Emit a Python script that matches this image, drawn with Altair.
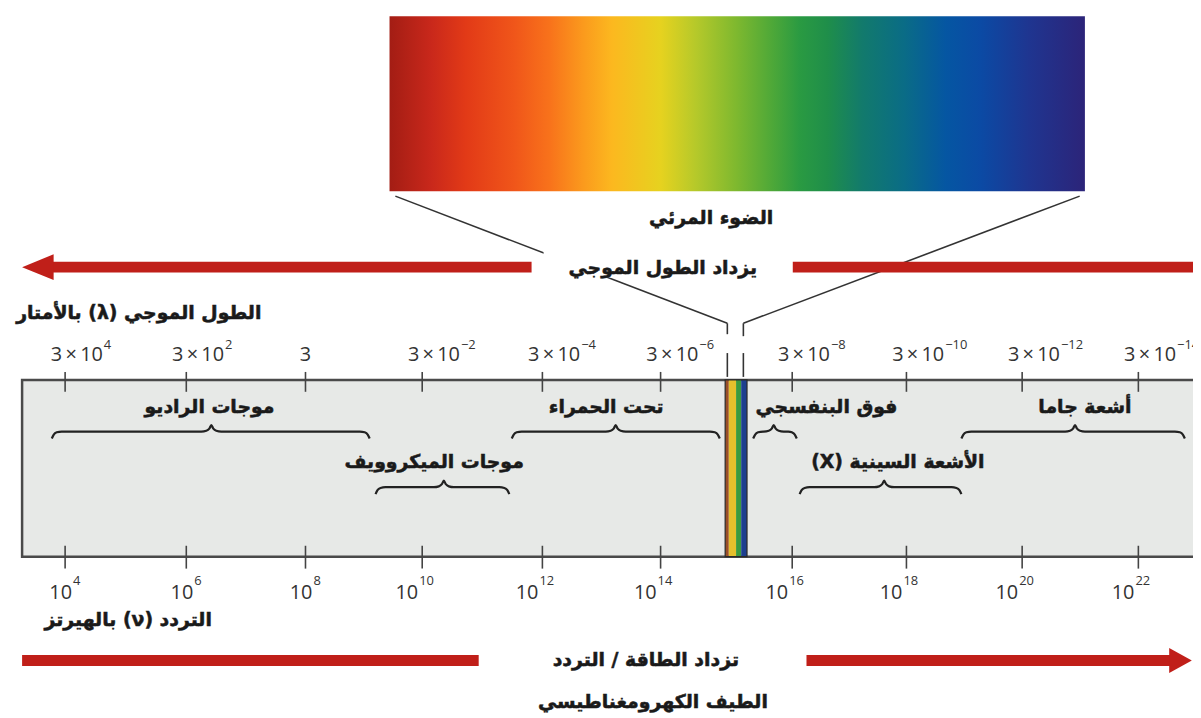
import altair as alt
import pandas as pd

RLE, PDF = "\u202b", "\u202c"
def rtl(s):
    return RLE + s + PDF

# ---- horizontal axis of the diagram: log10(frequency / Hz), piecewise (visible band expanded)
axis_exp = [4, 6, 8, 10, 12, 14, 14.6, 14.9, 16, 18, 20, 22]
axis_pos = [57.5, 179.5, 299.5, 417, 538, 657, 722, 744, 789.5, 904.5, 1021, 1138]

# ---- tick values / labels
freq_exp = [4, 6, 8, 10, 12, 14, 16, 18, 20, 22]
freq_exp_text = ["4", "6", "8", "10", "12", "14", "16", "18", "20", "22"]
# wavelength (m) at the same ticks: 3 x 10^k
wave_exp_text = ["4", "2", "", "−2", "−4", "−6", "−8", "−10", "−12", "−14"]

# ---- spectral regions (log10 frequency ranges)
band_names = ["موجات الراديو", "موجات الميكروويف", "تحت الحمراء", "فوق البنفسجي",
              "الأشعة السينية (X)", "أشعة جاما"]
band_lo = [3.78, 9.20, 11.49, 15.05, 16.13, 18.95]
band_hi = [9.10, 11.45, 14.55, 16.08, 18.95, 22.80]
band_mid = [6.42, 10.36, 13.24, 15.55, 17.61, 20.91]
band_text_at = [6.39, 10.20, 13.08, 16.60, 17.85, 21.08]
band_tier = [1, 2, 1, 1, 2, 1]

# ---- visible light strip inside the spectrum bar
vis_lo = [14.60, 14.65, 14.75, 14.82]
vis_hi = [14.65, 14.75, 14.82, 14.90]
vis_colors = ["#9a4e28", "#e4c02c", "#3a9a3e", "#1d3f8f"]

# ---- visible spectrum colour stops (red -> violet)
grad_offsets = [0.0, 0.06, 0.11, 0.18, 0.23, 0.28, 0.32, 0.39, 0.44, 0.50, 0.55, 0.59, 0.63,
                0.68, 0.74, 0.80, 0.85, 0.92, 1.0]
grad_colors = ["#a31d14", "#c9281b", "#e23a17", "#f0561a", "#f8721b", "#fb9b1d", "#fcb81f",
               "#e6d21f", "#b6c92a", "#7db82f", "#4ea838", "#2a9a42", "#1f8e4a", "#127a6c",
               "#0a6c86", "#0556a2", "#0b4aa4", "#1f3590", "#2c2479"]

# ---- layout (vertical positions are rows of the picture, horizontal in log10 f units)
LAY = dict(
    spec_lo=9.44, spec_hi=21.08, spec_top=14, spec_bot=190,
    box_lo=3.29, box_hi=23.6, box_top=380, box_bot=558,
    tick_top=(372, 392), tick_bot=(547, 570),
    wave_lab_y=355, wave_exp_y=345, freq_lab_y=595, freq_exp_y=582,
    tier_text={1: 407, 2: 463}, tier_brace={1: 432, 2: 488},
)
RED = "#c01f19"
INK = "#1a1a1a"
NUMC = "#333333"
AR_FONT = "DejaVu Sans"
AR_SIZE = 19
AR_STROKE = 0.55
NUM_FONT = "Open Sans"
NUM_SIZE = 20
EXP_SIZE = 13

xscale = alt.Scale(domain=axis_exp, range=axis_pos, zero=False, nice=False)
yscale = alt.Scale(domain=[8, 718], reverse=True, zero=False, nice=False)


def X(f="x"):
    return alt.X(f, type="quantitative", scale=xscale, axis=None)


def Y(f="y"):
    return alt.Y(f, type="quantitative", scale=yscale, axis=None)


def slope(v):
    xs, ps = axis_exp, axis_pos
    if v < xs[0]:
        return (ps[1] - ps[0]) / (xs[1] - xs[0])
    for i in range(len(xs) - 1):
        if xs[i] <= v < xs[i + 1]:
            return (ps[i + 1] - ps[i]) / (xs[i + 1] - xs[i])
    return (ps[-1] - ps[-2]) / (xs[-1] - xs[-2])


# ---- spectrum gradient
spec = alt.Chart(pd.DataFrame({"x": [LAY["spec_lo"]], "x2": [LAY["spec_hi"]],
                               "y": [LAY["spec_top"]], "y2": [LAY["spec_bot"]]})).mark_rect(
    fill={"gradient": "linear", "x1": 0, "x2": 1, "y1": 0, "y2": 0,
          "stops": [{"offset": o, "color": c} for o, c in zip(grad_offsets, grad_colors)]}
).encode(x=X(), x2="x2", y=Y(), y2="y2")

# ---- converging lines from the spectrum to the visible strip
seg = pd.DataFrame({
    "x": [9.54, 14.63, 14.63, 20.99, 14.85, 14.85],
    "y": [195, 323, 353, 195, 323, 353],
    "x2": [14.63, 14.63, 14.63, 14.85, 14.85, 14.85],
    "y2": [323, 334, 377, 323, 336, 377],
})
conv = alt.Chart(seg).mark_rule(color="#333333", strokeWidth=1.6).encode(
    x=X(), y=Y(), x2="x2", y2="y2")

knock = alt.Chart(pd.DataFrame({"x": [12.02], "x2": [15.82], "y": [248], "y2": [277]})).mark_rect(
    color="white").encode(x=X(), x2="x2", y=Y(), y2="y2")

# ---- red arrows
bars = pd.DataFrame({
    "x": [3.80, 16.01, 3.29, 16.25],
    "x2": [11.82, 23.6, 10.94, 22.55],
    "y": [261, 261, 657, 657],
    "y2": [272, 272, 668, 668],
})
red_bars = alt.Chart(bars).mark_rect(color=RED, clip=True).encode(x=X(), x2="x2", y=Y(), y2="y2")
head_l = alt.Chart(pd.DataFrame({"x": [3.29, 3.81], "y": [266.5, 253.5], "y2": [266.5, 279.5]})).mark_area(
    color=RED).encode(x=X(), y=Y(), y2="y2")
head_r = alt.Chart(pd.DataFrame({"x": [22.53, 22.92], "y": [650, 662.5], "y2": [675, 662.5]})).mark_area(
    color=RED).encode(x=X(), y=Y(), y2="y2")

# ---- the spectrum bar
box = alt.Chart(pd.DataFrame({"x": [LAY["box_lo"]], "x2": [LAY["box_hi"]],
                              "y": [LAY["box_top"]], "y2": [LAY["box_bot"]]})).mark_rect(
    fill="#e7e9e7", stroke="#4a4a4a", strokeWidth=2.5, clip=True).encode(
    x=X(), x2="x2", y=Y(), y2="y2")

vis = alt.Chart(pd.DataFrame({"x": vis_lo, "x2": vis_hi, "c": vis_colors,
                              "y": [LAY["box_top"]] * 4, "y2": [LAY["box_bot"]] * 4})).mark_rect().encode(
    x=X(), x2="x2", y=Y(), y2="y2", color=alt.Color("c:N", scale=None))
vis_edge = alt.Chart(pd.DataFrame({"x": [vis_lo[0]], "x2": [vis_hi[-1]],
                                   "y": [LAY["box_top"]], "y2": [LAY["box_bot"]]})).mark_rect(
    fill=None, stroke="#2a2a2a", strokeWidth=1.2).encode(x=X(), x2="x2", y=Y(), y2="y2")

ticks_df = pd.DataFrame({"x": freq_exp * 2,
                         "y": [LAY["tick_top"][0]] * 10 + [LAY["tick_bot"][0]] * 10,
                         "y2": [LAY["tick_top"][1]] * 10 + [LAY["tick_bot"][1]] * 10})
ticks = alt.Chart(ticks_df).mark_rule(color="#444444", strokeWidth=1.6).encode(x=X(), y=Y(), y2="y2")

# ---- curly braces built from each region's range
brace_shape_l = [(0, 7), (2, 3), (5, 0.8), (10, 0)]
brace_shape_c = [(-10, 0), (-5, -0.8), (-2, -3), (0, -6.5), (2, -3), (5, -0.8), (10, 0)]
brace_shape_r = [(-10, 0), (-5, 0.8), (-2, 3), (0, 7)]
rows = []
for i, name in enumerate(band_names):
    yb = LAY["tier_brace"][band_tier[i]]
    pts = []
    for anchor, shape in ((band_lo[i], brace_shape_l), (band_mid[i], brace_shape_c), (band_hi[i], brace_shape_r)):
        k = slope(anchor)
        for dx, dy in shape:
            pts.append((anchor + dx / k, yb + dy))
    for j, (px, py) in enumerate(pts):
        rows.append({"band": name, "o": j, "x": px, "y": py})
braces = alt.Chart(pd.DataFrame(rows)).mark_line(
    color="#222222", strokeWidth=2.2, interpolate="monotone").encode(
    x=X(), y=Y(), detail="band:N", order="o:Q")

band_df = pd.DataFrame({"x": band_text_at,
                        "y": [LAY["tier_text"][t] for t in band_tier],
                        "t": [rtl(n) for n in band_names]})
band_text = alt.Chart(band_df).mark_text(font=AR_FONT, fontSize=AR_SIZE, fontWeight="bold", color=INK,
                                         stroke=INK, strokeWidth=AR_STROKE,
                                         baseline="middle", align="center").encode(
    x=X(), y=Y(), text="t:N")

# ---- wavelength tick labels: 3 x 10^k
wl = pd.DataFrame({"x": freq_exp, "e": wave_exp_text,
                   "y": [LAY["wave_lab_y"]] * 10, "ye": [LAY["wave_exp_y"]] * 10})
wl_base = alt.Chart(wl).transform_filter("datum.e != ''").transform_calculate(
    t="'3\u2009×\u200910'").mark_text(
    font=NUM_FONT, fontSize=NUM_SIZE, color=NUMC, align="right", dx=38, baseline="middle").encode(
    x=X(), y=Y(), text="t:N")
wl_exp = alt.Chart(wl).transform_filter("datum.e != ''").mark_text(
    font=NUM_FONT, fontSize=EXP_SIZE, color=NUMC, align="left", dx=39, baseline="middle").encode(
    x=X(), y=Y("ye"), text="e:N")
wl_three = alt.Chart(wl).transform_filter("datum.e == ''").transform_calculate(t="'3'").mark_text(
    font=NUM_FONT, fontSize=NUM_SIZE, color=NUMC, align="center", baseline="middle").encode(
    x=X(), y=Y(), text="t:N")

# ---- frequency tick labels: 10^k
fq = pd.DataFrame({"x": freq_exp, "e": freq_exp_text,
                   "y": [LAY["freq_lab_y"]] * 10, "ye": [LAY["freq_exp_y"]] * 10})
fq_layers = []
for cond, off in (("length(datum.e) == 1", 7), ("length(datum.e) == 2", -4)):
    fq_layers.append(alt.Chart(fq).transform_filter(cond).transform_calculate(t="'10'").mark_text(
        font=NUM_FONT, fontSize=NUM_SIZE, color=NUMC, align="right", dx=off, baseline="middle").encode(
        x=X(), y=Y(), text="t:N"))
    fq_layers.append(alt.Chart(fq).transform_filter(cond).mark_text(
        font=NUM_FONT, fontSize=EXP_SIZE, color=NUMC, align="left", dx=off + 1, baseline="middle").encode(
        x=X(), y=Y("ye"), text="e:N"))

# ---- captions
cap_c = pd.DataFrame({
    "x": [14.47, 14.02, 13.75, 13.87],
    "y": [217, 267, 662, 704],
    "t": [rtl("الضوء المرئي"), rtl("يزداد الطول الموجي"), rtl("تزداد الطاقة / التردد"),
          rtl("الطيف الكهرومغناطيسي")],
})
cap_center = alt.Chart(cap_c).mark_text(font=AR_FONT, fontSize=AR_SIZE, fontWeight="bold", color=INK,
                                        stroke=INK, strokeWidth=AR_STROKE,
                                        align="center", baseline="middle").encode(x=X(), y=Y(), text="t:N")
cap_r = pd.DataFrame({"x": [7.26, 6.43], "y": [313, 622],
                      "t": [rtl("الطول الموجي (λ) بالأمتار"), rtl("التردد (ν) بالهيرتز")]})
cap_right = alt.Chart(cap_r).mark_text(font=AR_FONT, fontSize=AR_SIZE, fontWeight="bold", color=INK,
                                       stroke=INK, strokeWidth=AR_STROKE,
                                       align="right", baseline="middle").encode(x=X(), y=Y(), text="t:N")

chart = alt.layer(
    spec, conv, knock, red_bars, head_l, head_r, box, vis, vis_edge, ticks, braces,
    band_text, wl_base, wl_exp, wl_three, *fq_layers, cap_center, cap_right,
).properties(
    width=1193, height=710, padding=0, background="white",
    autosize=alt.AutoSizeParams(type="none"),
).configure_view(stroke=None)

chart.save("out.html", embed_options={"renderer": "svg", "actions": False})
